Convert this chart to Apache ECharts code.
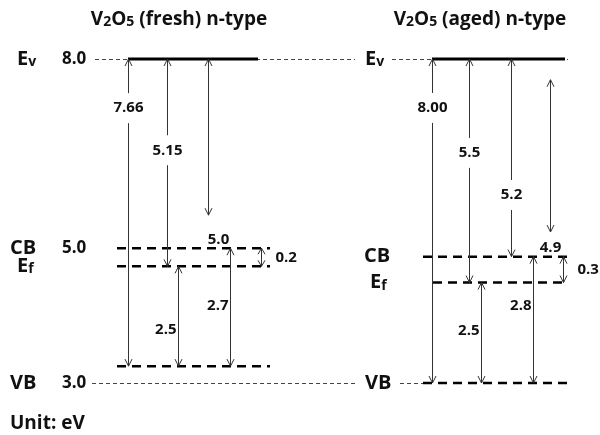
<!DOCTYPE html>
<html>
<head>
<meta charset="utf-8">
<title>V2O5 energy levels</title>
<script src="https://cdn.jsdelivr.net/npm/echarts@6/dist/echarts.min.js"></script>
<style>
  html, body { margin: 0; padding: 0; background: #fff; }
  #main { width: 600px; height: 435px; }
</style>
</head>
<body>
<div id="main"></div>
<script>
// ---- data (levels are drawn heights in eV, schematic as in the figure) ----
const levelNames = ['E{s|v}', 'CB', 'E{s|f}', 'VB'];
const refLevels = [8.0, 3.0];            // Ev / VB reference values
const refTicks = ['8.0', '5.0', '3.0'];
const freshLevels = [8.0, 5.08, 4.80, 3.26];
const agedLevels = [8.0, 4.95, 4.55, 3.0];

// arrows: top end, bottom end (eV) and printed value
const freshArrowTop = [8.0, 8.0, 8.0, 4.80, 5.08, 5.08];
const freshArrowBottom = [3.26, 4.80, 5.59, 3.26, 3.26, 4.80];
const freshArrowText = ['7.66', '5.15', '5.0', '2.5', '2.7', '0.2'];
const agedArrowTop = [8.0, 8.0, 8.0, 7.68, 4.55, 4.95, 4.95];
const agedArrowBottom = [3.0, 4.55, 4.95, 5.33, 3.0, 3.0, 4.55];
const agedArrowText = ['8.00', '5.5', '5.2', '4.9', '2.5', '2.8', '0.3'];

const titles = ['V{sub|2}O{sub|5} (fresh) n-type', 'V{sub|2}O{sub|5} (aged) n-type'];

// ---- layout ----
const freshArrowX = [128, 167, 208, 178, 230, 261];
const agedArrowX = [432, 469, 511, 550, 481, 533, 563];
const freshLabelPos = [['gap', 0.16], ['gap', 0.44], ['free', 10, 25], ['left', 0.635], ['left', 0.49], ['right', 0.5]];
const agedLabelPos = [['gap', 0.151], ['gap', 0.42], ['gap', 0.688], ['free', 0, 16], ['left', 0.483], ['left', 0.388], ['right', 0.5]];

const FONT = '"Open Sans", "Noto Sans", sans-serif';
const lineStyles = [
  { stroke: '#444', lineWidth: 1, lineDash: [4, 3] },
  { stroke: '#000', lineWidth: 3 },
  { stroke: '#000', lineWidth: 2.5, lineDash: [9, 6] }
];

const levelSegs = [
  [95, 355, refLevels[0], 0],
  [392, 568, refLevels[0], 0],
  [92, 355, refLevels[1], 0],
  [400, 423, refLevels[1], 0],
  [128, 258, freshLevels[0], 1],
  [117, 270, freshLevels[1], 2],
  [117, 270, freshLevels[2], 2],
  [117, 270, freshLevels[3], 2],
  [432, 565, agedLevels[0], 1],
  [423, 567, agedLevels[1], 2],
  [433, 563, agedLevels[2], 2],
  [423, 568, agedLevels[3], 2]
];

const arrowData = [];
const arrowMeta = [];
freshArrowText.forEach(function (t, i) {
  arrowData.push([freshArrowX[i], freshArrowTop[i], freshArrowBottom[i]]);
  arrowMeta.push({ text: t, pos: freshLabelPos[i] });
});
agedArrowText.forEach(function (t, i) {
  arrowData.push([agedArrowX[i], agedArrowTop[i], agedArrowBottom[i]]);
  arrowMeta.push({ text: t, pos: agedLabelPos[i] });
});

// level names: [x, height, nameIndex]
const nameData = [
  [17, refLevels[0], 0], [10, freshLevels[1], 1], [17, freshLevels[2], 2], [10, refLevels[1], 3],
  [365, agedLevels[0], 0], [364, agedLevels[1], 1], [370, agedLevels[2], 2], [365, agedLevels[3], 3]
];
const tickData = [[62, refLevels[0], 0], [62, freshLevels[1], 1], [62, refLevels[1], 2]];

const sub = { fontSize: 14, fontWeight: 'bold', fontFamily: FONT, verticalAlign: 'bottom', lineHeight: 8 };

function px(v) { return Math.round(v) + 0.5; }

function renderLevel(params, api) {
  const a = api.coord([api.value(0), api.value(2)]);
  const b = api.coord([api.value(1), api.value(2)]);
  const st = lineStyles[api.value(3)];
  const y = st.lineWidth === 1 ? px(a[1]) : a[1];
  return {
    type: 'line',
    shape: { x1: a[0], y1: y, x2: b[0], y2: y },
    style: Object.assign({ fill: null }, st)
  };
}

function renderArrow(params, api) {
  const meta = arrowMeta[params.dataIndex];
  const top = api.coord([api.value(0), api.value(1)]);
  const bot = api.coord([api.value(0), api.value(2)]);
  const x = px(top[0]);
  const y1 = top[1], y2 = bot[1];
  const h = Math.min(7, (y2 - y1) / 3), w = 3.5;
  const st = { stroke: '#333', lineWidth: 1, fill: null };
  const children = [];
  const pos = meta.pos;
  let tx, ty, align = 'center';
  if (pos[0] === 'gap') {
    ty = y1 + pos[1] * (y2 - y1);
    tx = x;
    children.push({ type: 'line', shape: { x1: x, y1: y1, x2: x, y2: ty - 15 }, style: st });
    children.push({ type: 'line', shape: { x1: x, y1: ty + 15, x2: x, y2: y2 }, style: st });
  } else {
    children.push({ type: 'line', shape: { x1: x, y1: y1, x2: x, y2: y2 }, style: st });
    if (pos[0] === 'free') { tx = x + pos[1]; ty = y2 + pos[2]; }
    if (pos[0] === 'left') { tx = x - 2; ty = y1 + pos[1] * (y2 - y1); align = 'right'; }
    if (pos[0] === 'right') { tx = x + 14; ty = y1 + pos[1] * (y2 - y1); align = 'left'; }
  }
  children.push({ type: 'polyline', shape: { points: [[x - w, y1 + h], [x, y1], [x + w, y1 + h]] }, style: st });
  children.push({ type: 'polyline', shape: { points: [[x - w, y2 - h], [x, y2], [x + w, y2 - h]] }, style: st });
  children.push({
    type: 'text',
    style: { text: meta.text, x: tx, y: ty, align: align, verticalAlign: 'middle',
      fill: '#111', fontSize: 15, fontWeight: 'bold', fontFamily: FONT }
  });
  return { type: 'group', children: children };
}

function renderName(params, api) {
  const p = api.coord([api.value(0), api.value(1)]);
  return {
    type: 'text',
    style: { text: levelNames[api.value(2)], x: p[0], y: p[1], align: 'left', verticalAlign: 'middle',
      fill: '#111', fontSize: 20, fontWeight: 'bold', fontFamily: FONT,
      rich: { s: sub } }
  };
}

function renderTick(params, api) {
  const p = api.coord([api.value(0), api.value(1)]);
  return {
    type: 'text',
    style: { text: refTicks[api.value(2)], x: p[0], y: p[1], align: 'left', verticalAlign: 'middle',
      fill: '#111', fontSize: 17, fontWeight: 'bold', fontFamily: FONT }
  };
}

const chart = echarts.init(document.getElementById('main'));
chart.setOption({
  animation: false,
  backgroundColor: '#fff',
  grid: { left: 0, right: 0, top: 59, height: 324 },
  xAxis: { type: 'value', min: 0, max: 600, show: false },
  yAxis: { type: 'value', min: 3, max: 8, show: false },
  graphic: [
    { type: 'text', x: 179, y: 20, style: { text: titles[0], align: 'center', verticalAlign: 'middle',
      fill: '#111', fontSize: 19, fontWeight: 'bold', fontFamily: FONT, rich: { sub: sub } } },
    { type: 'text', x: 480, y: 20, style: { text: titles[1], align: 'center', verticalAlign: 'middle',
      fill: '#111', fontSize: 19, fontWeight: 'bold', fontFamily: FONT, rich: { sub: sub } } },
    { type: 'text', x: 10, y: 424, style: { text: 'Unit: eV', align: 'left', verticalAlign: 'middle',
      fill: '#111', fontSize: 19, fontWeight: 'bold', fontFamily: FONT } }
  ],
  series: [
    { type: 'custom', clip: false, silent: true, renderItem: renderLevel, data: levelSegs,
      encode: { x: [0, 1], y: 2 } },
    { type: 'custom', clip: false, silent: true, renderItem: renderArrow, data: arrowData,
      encode: { x: 0, y: [1, 2] } },
    { type: 'custom', clip: false, silent: true, renderItem: renderName, data: nameData,
      encode: { x: 0, y: 1 } },
    { type: 'custom', clip: false, silent: true, renderItem: renderTick, data: tickData,
      encode: { x: 0, y: 1 } }
  ]
});
</script>
</body>
</html>
